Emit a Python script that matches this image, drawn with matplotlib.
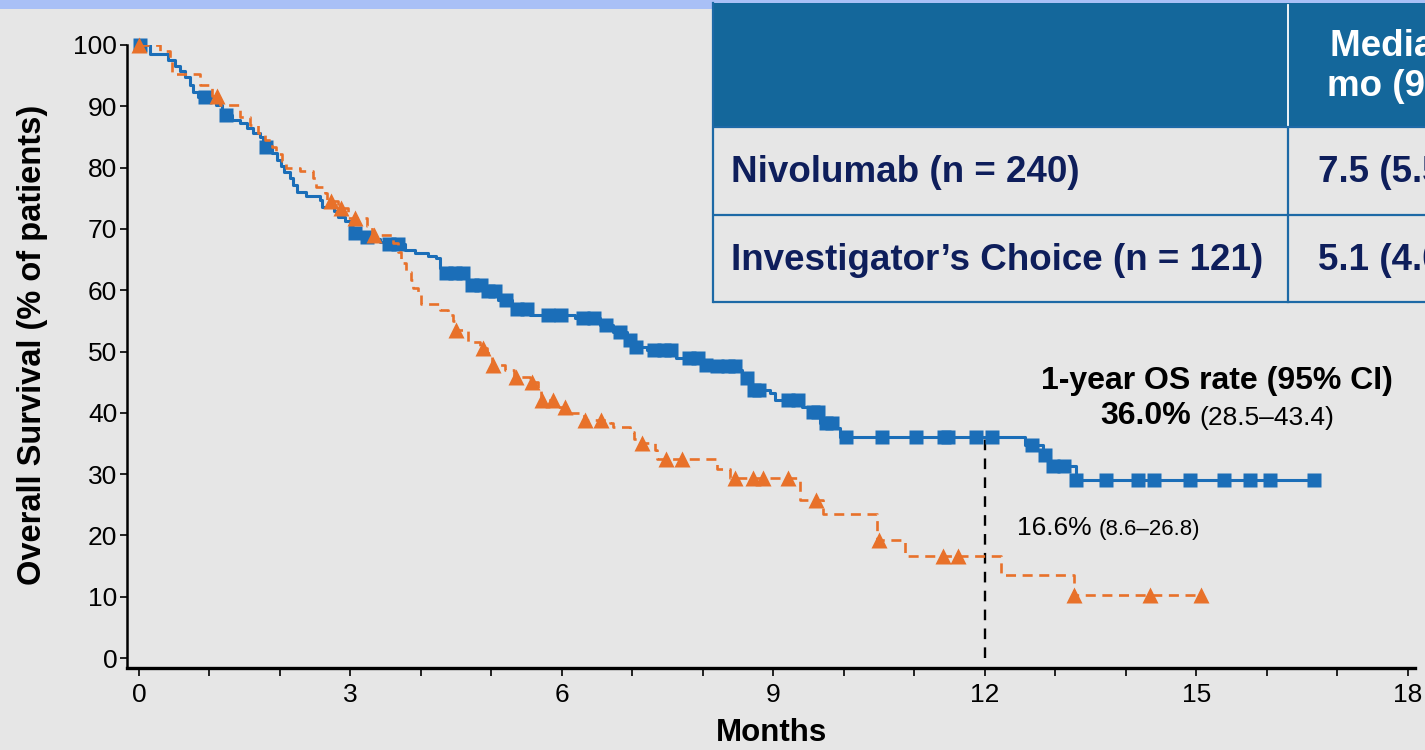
import numpy as np
import matplotlib
matplotlib.use("Agg")
import matplotlib.pyplot as plt
from matplotlib.patches import Rectangle

plt.rcParams['font.family'] = ['Liberation Sans', 'DejaVu Sans']

# Kaplan-Meier step data: months and survival (%) after each step
nivo_t = [0, 0.16, 0.41, 0.51, 0.58, 0.65, 0.72, 0.77, 0.84, 1.09, 1.18, 1.32, 1.43, 1.53,
          1.62, 1.72, 1.76, 1.89, 1.96, 2.01, 2.06, 2.14, 2.18, 2.24, 2.37, 2.57, 2.60, 2.77,
          2.82, 2.92, 2.99, 3.04, 3.16, 3.30, 3.42, 3.50, 3.77, 3.91, 4.10, 4.21, 4.27, 4.31,
          4.65, 4.88, 5.09, 5.29, 5.55, 6.18, 6.54, 6.72, 6.92, 6.99, 7.21, 7.62, 8.00, 8.10,
          8.52, 8.55, 8.67, 8.95, 9.02, 9.40, 9.49, 9.66, 9.89, 9.94, 12.57, 12.82, 12.92,
          13.29, 16.67]
nivo_s = [100, 98.5, 97.5, 96.5, 95.8, 94.7, 93.5, 92.4, 91.5, 90.2, 88.5, 87.8, 87.2, 86.5,
          85.7, 85.0, 83.3, 82.4, 81.2, 80.3, 79.3, 78.3, 77.2, 76.0, 75.4, 74.7, 73.6, 73.0,
          72.0, 71.3, 70.3, 69.3, 68.7, 68.3, 67.9, 67.5, 66.6, 66.1, 65.5, 65.2, 63.6, 62.8,
          60.8, 59.8, 58.4, 56.9, 56.0, 55.5, 54.3, 53.2, 51.9, 50.8, 50.2, 49.0, 47.8, 47.6,
          47.0, 45.7, 43.7, 43.2, 42.1, 41.0, 40.2, 38.3, 37.5, 36.0, 34.7, 33.1, 31.3,
          29.0, 29.0]
nivo_censor = [0.02, 0.94, 1.23, 1.80, 3.06, 3.23, 3.55, 3.68, 4.35, 4.48, 4.60, 4.72, 4.85,
               4.95, 5.05, 5.20, 5.36, 5.50, 5.80, 5.98, 6.30, 6.45, 6.62, 6.82, 6.96, 7.05,
               7.30, 7.45, 7.55, 7.80, 7.93, 8.05, 8.20, 8.35, 8.45, 8.62, 8.72, 8.80, 9.20,
               9.35, 9.56, 9.63, 9.75, 9.83, 10.03, 10.54, 11.02, 11.42, 11.48, 11.87, 12.10,
               12.67, 12.85, 12.97, 13.12, 13.29, 13.72, 14.17, 14.40, 14.91, 15.39, 15.76,
               16.04, 16.67]

ic_t = [0, 0.30, 0.44, 0.47, 0.87, 1.04, 1.15, 1.43, 1.57, 1.69, 1.79, 1.89, 1.94, 2.03,
        2.09, 2.28, 2.47, 2.51, 2.64, 2.67, 2.82, 2.96, 3.23, 3.30, 3.60, 3.67, 3.72, 3.79,
        3.86, 3.89, 3.96, 4.00, 4.27, 4.38, 4.45, 4.48, 4.67, 4.84, 4.94, 5.01, 5.19, 5.32,
        5.55, 5.66, 5.70, 5.90, 6.07, 6.31, 6.68, 6.72, 6.96, 7.02, 7.11, 7.32, 7.35, 8.20,
        8.38, 9.38, 9.70, 10.47, 10.87, 12.23, 13.26, 15.06]
ic_s = [100, 99.0, 97.5, 95.3, 93.5, 91.6, 90.2, 88.3, 87.0, 85.6, 84.5, 83.4, 82.3, 81.0,
        80.0, 79.4, 78.3, 76.9, 75.8, 74.5, 73.4, 71.8, 70.4, 69.0, 67.7, 66.3, 64.4, 63.0,
        61.7, 60.3, 59.5, 57.8, 56.8, 56.0, 54.9, 53.5, 51.5, 50.5, 49.7, 47.8, 47.0, 45.9,
        45.1, 43.7, 42.1, 41.0, 40.0, 38.9, 38.3, 37.7, 36.9, 35.8, 35.0, 33.9, 32.4, 30.9,
        29.3, 25.8, 23.5, 19.2, 16.6, 13.5, 10.3, 10.3]
ic_censor = [0.0, 1.10, 2.72, 2.87, 3.07, 3.33, 4.50, 4.88, 5.02, 5.35, 5.57, 5.71, 5.87,
             6.04, 6.33, 6.56, 7.13, 7.48, 7.70, 8.45, 8.71, 8.85, 9.21, 9.60, 10.50, 11.40,
             11.62, 13.26, 14.34, 15.06]

x_ticks = [0, 3, 6, 9, 12, 15, 18]
y_ticks = [0, 10, 20, 30, 40, 50, 60, 70, 80, 90, 100]
landmark_month = 12
nivo_1yr, nivo_1yr_ci = "36.0%", "(28.5–43.4)"
ic_1yr, ic_1yr_ci = "16.6%", "(8.6–26.8)"

table_rows = ["Nivolumab (n = 240)", "Investigator’s Choice (n = 121)"]
table_median = ["7.5 (5.5–9.1)", "5.1 (4.0–6.0)"]
table_header = ["Median OS,", "mo (95% CI)"]

BLUE = '#1B6EB8'
ORANGE = '#E8712A'
BG = '#E6E6E6'
NAVY = '#0E1E5B'
HEAD = '#14679B'
BORDER = '#1D69A6'

W, H = 1425, 750
fig = plt.figure(figsize=(W / 100, H / 100), dpi=100)
fig.patch.set_facecolor(BG)

ax = fig.add_axes([127 / W, 1 - 668 / H, (1415 - 127) / W, (668 - 45) / H])
ax.set_facecolor('none')
ax.set_xlim(-0.17, 18.1)
ax.set_ylim(-1.63, 100)


def surv_at(t, times, surv):
    idx = np.searchsorted(times, t, side='right') - 1
    return np.asarray(surv)[idx]


# Nivolumab curve
ax.step(nivo_t, nivo_s, where='post', color=BLUE, lw=2.2, zorder=3)
ax.plot(nivo_censor, surv_at(nivo_censor, nivo_t, nivo_s), ls='none', marker='s',
        ms=10.5, color=BLUE, mec='none', zorder=4, clip_on=False)

# Investigator's choice curve
ax.step(ic_t, ic_s, where='post', color=ORANGE, lw=1.9, dashes=(3.8, 2.5), zorder=5)
ax.plot(ic_censor, surv_at(ic_censor, ic_t, ic_s), ls='none', marker='^',
        ms=11.5, color=ORANGE, mec='none', zorder=6, clip_on=False)

# 1-year landmark
ax.plot([landmark_month, landmark_month], [0, surv_at([landmark_month], nivo_t, nivo_s)[0]],
        color='black', lw=1.7, dashes=(4.5, 3.5), zorder=2)

ax.set_xticks(x_ticks)
ax.set_xticks(np.arange(0, 19, 1), minor=True)
ax.set_yticks(y_ticks)
ax.tick_params(axis='x', which='both', direction='out', length=6, width=1.2, pad=5,
               labelsize=19, colors='black')
ax.tick_params(axis='y', direction='out', length=5, width=1.2, pad=2, labelsize=19)
for s in ('top', 'right'):
    ax.spines[s].set_visible(False)
ax.spines['left'].set_linewidth(1.8)
ax.spines['bottom'].set_linewidth(2.4)

ax.set_xlabel('Months', fontsize=22.5, fontweight='bold', va='center')
ax.set_ylabel('Overall Survival (% of patients)', fontsize=23.5, fontweight='bold',
              va='center')
ax.xaxis.set_label_coords(0.5, -0.104)
ax.yaxis.set_label_coords(-0.073, 0.518)

# Overlay in pixel coordinates for banner, table and annotations
ov = fig.add_axes([0, 0, 1, 1], zorder=10)
ov.set_xlim(0, W)
ov.set_ylim(H, 0)
ov.axis('off')
ov.patch.set_alpha(0)

ov.add_patch(Rectangle((0, 0), W, 9, color='#A9C0F6', lw=0, zorder=1))

tx0, tx_div, tx1 = 713, 1288, W + 10
ty = [3, 127, 215, 302]
ov.add_patch(Rectangle((tx0, ty[0]), tx1 - tx0, ty[1] - ty[0], color=HEAD, lw=0, zorder=2))
ov.add_patch(Rectangle((tx0, ty[1]), tx1 - tx0, ty[3] - ty[1], color=BG, lw=0, zorder=2))
for yy in ty[1:]:
    ov.plot([tx0, tx1], [yy, yy], color=BORDER, lw=1.6, zorder=3, solid_capstyle='butt')
ov.plot([tx0, tx0], [ty[0], ty[3]], color=BORDER, lw=1.6, zorder=3)
ov.plot([tx_div, tx_div], [ty[1], ty[3]], color=BORDER, lw=1.6, zorder=3)
ov.plot([tx_div, tx_div], [ty[0] + 2, ty[1] - 2], color='white', lw=1.3, zorder=3)

ov.text(1330, 46, table_header[0], color='white', fontsize=26.5, fontweight='bold',
        ha='left', va='center', zorder=4)
ov.text(1327, 87, table_header[1], color='white', fontsize=26.5, fontweight='bold',
        ha='left', va='center', zorder=4)
for row_y, label, med in zip([172, 261], table_rows, table_median):
    ov.text(731, row_y, label, color=NAVY, fontsize=26.5, fontweight='bold',
            ha='left', va='center', zorder=4)
    ov.text(1318, row_y, med, color=NAVY, fontsize=26.5, fontweight='bold',
            ha='left', va='center', zorder=4)

# 1-year OS rate annotations
ov.text(1217, 381, '1-year OS rate (95% CI)', fontsize=23, fontweight='bold',
        ha='center', va='center')
ov.text(1191, 416, nivo_1yr, fontsize=23, fontweight='bold', ha='right', va='center')
ov.text(1199, 418, nivo_1yr_ci, fontsize=19, ha='left', va='center')
ov.text(1092, 528, ic_1yr, fontsize=19, ha='right', va='center')
ov.text(1099, 530, ic_1yr_ci, fontsize=16, ha='left', va='center')

fig.savefig('out.png', dpi=100, facecolor=BG)
